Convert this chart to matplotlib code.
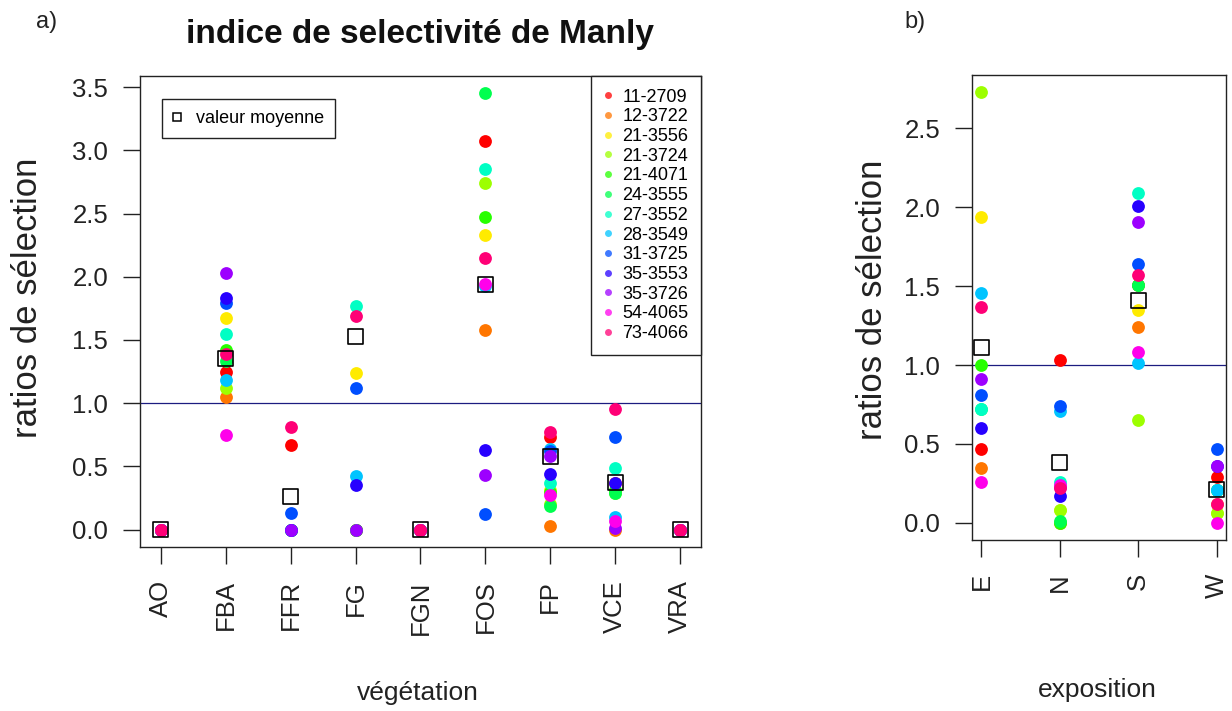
import colorsys
import numpy as np
import matplotlib
import matplotlib.pyplot as plt
from matplotlib.lines import Line2D
matplotlib.use('agg')

plt.rcParams['font.family'] = ['Liberation Sans', 'DejaVu Sans']

# individus (couleurs rainbow(13) comme dans R)
ids = ['11-2709', '12-3722', '21-3556', '21-3724', '21-4071', '24-3555', '27-3552',
       '28-3549', '31-3725', '35-3553', '35-3726', '54-4065', '73-4066']

vegetation = ['AO', 'FBA', 'FFR', 'FG', 'FGN', 'FOS', 'FP', 'VCE', 'VRA']
nan = np.nan
ratios_veg = {
    '11-2709': [0, 1.25, 0.67, 0.00, 0, 3.07, 0.73, 0.37, 0],
    '12-3722': [0, 1.05, 0.00, 0.00, 0, 1.58, 0.03, 0.00, 0],
    '21-3556': [0, 1.67, 0.00, 1.24, 0, 2.33, 0.31, 0.30, 0],
    '21-3724': [0, 1.12, 0.00, 0.00, 0, 2.74, 0.20, 0.29, 0],
    '21-4071': [0, 1.42, 0.00, 0.00, 0, 2.47, 0.30, 0.31, 0],
    '24-3555': [0, 1.33, 0.00, 0.00, 0, 3.45, 0.19, 0.29, 0],
    '27-3552': [0, 1.55, 0.00, 1.77, 0, 2.85, 0.37, 0.49, 0],
    '28-3549': [0, 1.18, 0.00, 0.42, 0, 1.93, 0.64, 0.10, 0],
    '31-3725': [0, 1.79, 0.13, 1.12, 0, 0.12, 0.62, 0.73, 0],
    '35-3553': [0, 1.83, 0.00, 0.35, 0, 0.63, 0.44, 0.37, 0],
    '35-3726': [0, 2.03, 0.00, 0.00, 0, 0.43, 0.58, 0.01, 0],
    '54-4065': [0, 0.75, nan, nan, 0, 1.94, 0.27, 0.07, 0],
    '73-4066': [0, 1.39, 0.81, 1.69, 0, 2.15, 0.77, 0.95, 0],
}
moyenne_veg = [0, 1.35, 0.26, 1.53, 0, 1.94, 0.58, 0.37, 0]

exposition = ['E', 'N', 'S', 'W']
ratios_expo = {
    '11-2709': [0.47, 1.03, 1.51, 0.29],
    '12-3722': [0.35, 0.00, 1.24, 0.12],
    '21-3556': [1.94, 0.08, 1.35, 0.06],
    '21-3724': [2.73, 0.08, 0.65, 0.06],
    '21-4071': [1.00, 0.00, 1.51, 0.21],
    '24-3555': [0.72, 0.01, 1.51, 0.21],
    '27-3552': [0.72, 0.26, 2.09, 0.21],
    '28-3549': [1.46, 0.71, 1.01, 0.21],
    '31-3725': [0.81, 0.74, 1.64, 0.47],
    '35-3553': [0.60, 0.17, 2.01, 0.36],
    '35-3726': [0.91, 0.23, 1.91, 0.36],
    '54-4065': [0.26, 0.24, 1.08, 0.00],
    '73-4066': [1.37, 0.22, 1.57, 0.12],
}
moyenne_expo = [1.11, 0.38, 1.41, 0.21]

couleurs = [colorsys.hsv_to_rgb(i / len(ids), 1, 1) for i in range(len(ids))]

W, H = 1232, 711
fig = plt.figure(figsize=(W / 100, H / 100), dpi=100)


def rect(x0, y0, x1, y1):
    return [x0 / W, 1 - y1 / H, (x1 - x0) / W, (y1 - y0) / H]


def panneau(ax, cats, ratios, moyennes, yticks):
    x = np.arange(1, len(cats) + 1)
    for k, ind in enumerate(ids):
        ax.scatter(x, ratios[ind], s=85, color=couleurs[k], linewidths=0, zorder=3 + k * 0.01)
    ax.scatter(x, moyennes, s=115, marker='s', facecolors='none', edgecolors='black',
               linewidths=1.2, zorder=4)
    ax.axhline(1, color='#1c1c80', lw=0.9, zorder=2)
    vals = np.concatenate([np.array(v, float) for v in ratios.values()])
    lo, hi = 0, np.nanmax(vals)
    ext = 0.04 * (hi - lo)
    ax.set_ylim(lo - ext, hi + ext)
    ax.set_xlim(1 - 0.04 * (len(cats) - 1), len(cats) + 0.04 * (len(cats) - 1))
    ax.set_xticks(x)
    ax.set_xticklabels(cats, rotation=90, va='top')
    ax.set_yticks(yticks)
    ax.set_yticklabels([f'{t:.1f}' for t in yticks])
    ax.tick_params(axis='both', direction='out', length=12, width=1, labelsize=18.5,
                   color='#222222', labelcolor='#222222')
    ax.tick_params(axis='y', pad=11)
    ax.tick_params(axis='x', pad=12)
    for sp in ax.spines.values():
        sp.set_linewidth(1)
        sp.set_color('#222222')


ax1 = fig.add_axes(rect(140, 76, 701, 547))
panneau(ax1, vegetation, ratios_veg, moyenne_veg, np.arange(0, 3.51, 0.5))

ax2 = fig.add_axes(rect(972, 75, 1226, 540))
panneau(ax2, exposition, ratios_expo, moyenne_expo, np.arange(0, 2.51, 0.5))

# légendes
poignees = [Line2D([], [], ls='none', marker='o', ms=5, mfc=c, mec='none', alpha=0.75)
            for c in couleurs]
leg1 = ax1.legend(poignees, ids, loc='upper right', borderaxespad=0, frameon=True,
                  fancybox=False, edgecolor='#222222', framealpha=1, fontsize=13,
                  handlelength=0.5, handletextpad=0.55, labelspacing=0.15, borderpad=0.7)
leg1.get_frame().set_linewidth(1)
ax1.add_artist(leg1)

carre = Line2D([], [], ls='none', marker='s', ms=6, mfc='none', mec='black', mew=1.1)
leg2 = ax1.legend([carre], ['valeur moyenne'], loc='upper left',
                  bbox_to_anchor=((162 - 140) / 561, 1 - (99 - 76) / 471),
                  borderaxespad=0, frameon=True, fancybox=False, edgecolor='#222222',
                  framealpha=1, fontsize=13, handlelength=0.5, handletextpad=0.8,
                  borderpad=0.6)
leg2.get_frame().set_linewidth(1)

# textes
fig.text(420 / W, 1 - 35 / H, 'indice de selectivité de Manly', ha='center', va='center',
         fontsize=24, fontweight='bold', color='#111111')
fig.text(47 / W, 1 - 22 / H, 'a)', ha='center', va='center', fontsize=17, color='#222222')
fig.text(915 / W, 1 - 22 / H, 'b)', ha='center', va='center', fontsize=17, color='#222222')
fig.text(28 / W, 1 - 298 / H, 'ratios de sélection', rotation=90, ha='center', va='center',
         fontsize=25, color='#222222')
fig.text(872 / W, 1 - 300 / H, 'ratios de sélection', rotation=90, ha='center', va='center',
         fontsize=25, color='#222222')
fig.text(418 / W, 1 - 693 / H, 'végétation', ha='center', va='center', fontsize=19,
         color='#222222')
fig.text(1097 / W, 1 - 690 / H, 'exposition', ha='center', va='center', fontsize=19,
         color='#222222')

fig.savefig('out.png', dpi=100)
